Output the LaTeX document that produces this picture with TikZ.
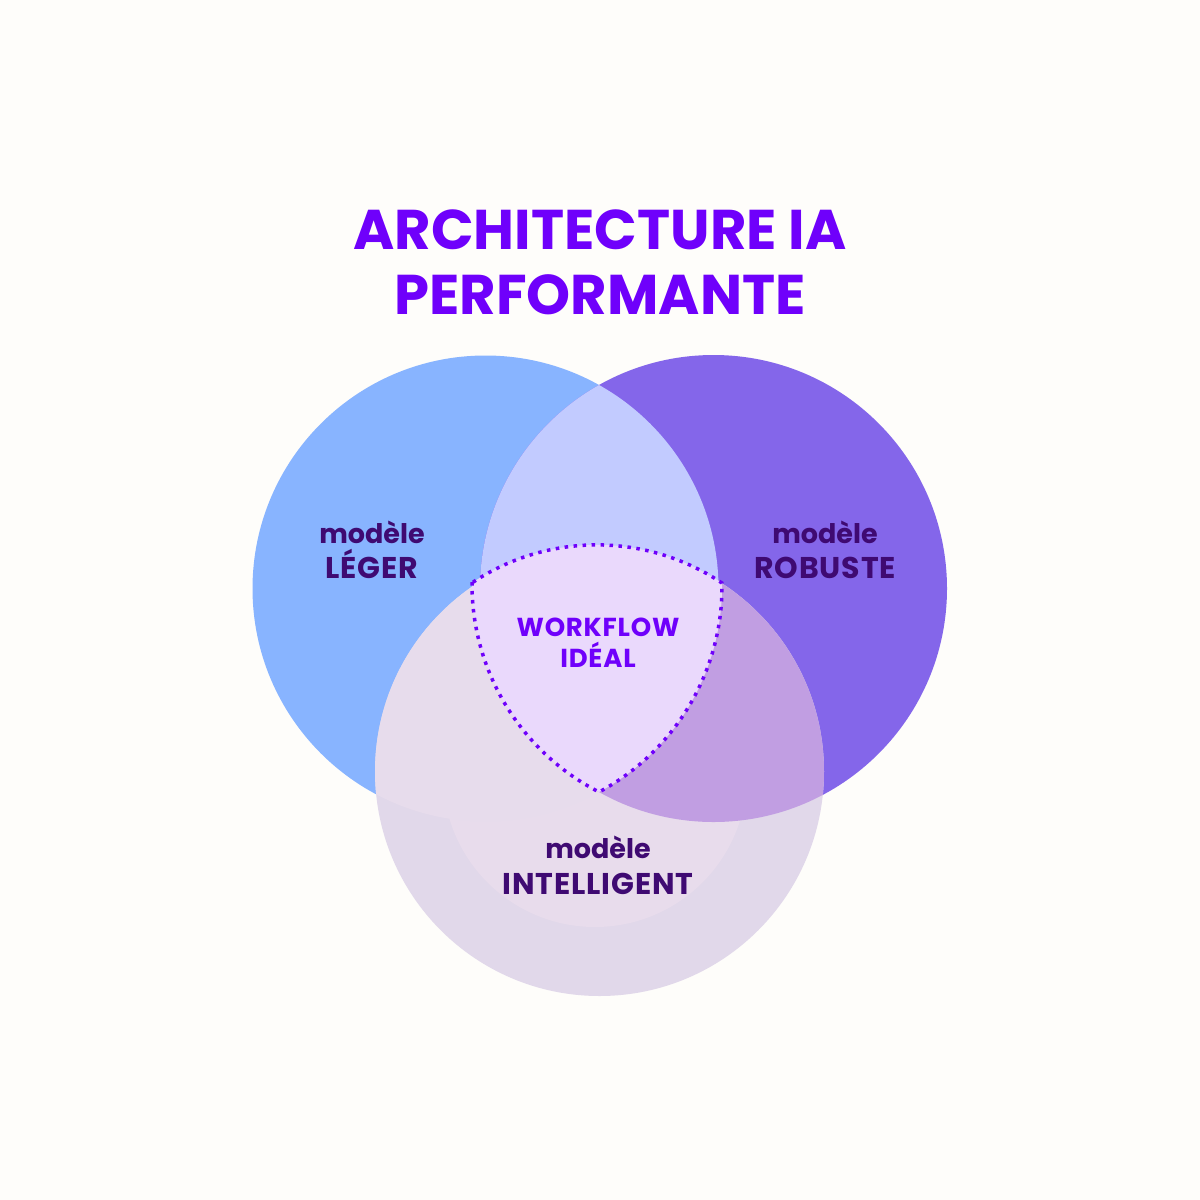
\documentclass[tikz,border=0pt]{standalone}
\usepackage{fontspec}
\setmainfont{Poppins}
\definecolor{bg}{HTML}{FEFDFA}
\definecolor{cleft}{HTML}{88B4FF}
\definecolor{cright}{HTML}{8466EA}
\definecolor{clr}{HTML}{C2CBFF}
\definecolor{cbot}{HTML}{E1D8EA}
\definecolor{cinner}{HTML}{E8DCEC}
\definecolor{cbl}{HTML}{E7DCEC}
\definecolor{cbr}{HTML}{C19EE2}
\definecolor{ctri}{HTML}{EAD9FC}
\definecolor{titlec}{HTML}{6F00FB}
\definecolor{labc}{HTML}{3F0A72}
\tikzset{
  title/.style={anchor=base, inner sep=0pt, text=titlec, font=\fontsize{56}{60}\selectfont\bfseries},
  lab/.style={anchor=base, inner sep=0pt, text=labc, font=\fontsize{27}{32}\selectfont\bfseries},
  labcaps/.style={anchor=base, inner sep=0pt, text=labc, font=\fontsize{30}{34}\selectfont\bfseries\addfontfeature{LetterSpace=3}},
  wlab/.style={anchor=base, inner sep=0pt, text=titlec, font=\fontsize{26}{30}\selectfont\bfseries\addfontfeature{LetterSpace=3}},
  dotline/.style={draw=titlec, line width=3.5pt, dash pattern=on 3.5pt off 5.5pt}
}
\begin{document}
\begin{tikzpicture}[x=1pt,y=-1pt]
\useasboundingbox (0,0) rectangle (1200,1200);
\fill[bg] (0,0) rectangle (1200,1200);
\coordinate (L) at (485.5,588.5);
\coordinate (R) at (713.5,588.5);
\coordinate (B) at (599.5,771.5);
\def\rL{233}
\def\rR{233.5}
\def\rB{224.5}
% base circles
\fill[cleft] (L) circle[radius=\rL];
\fill[cright] (R) circle[radius=\rR];
\begin{scope}
  \clip (L) circle[radius=\rL];
  \fill[clr] (R) circle[radius=\rR];
\end{scope}
\fill[cbot] (B) circle[radius=\rB];
\begin{scope}
  \clip (B) circle[radius=\rB];
  \fill[cinner] (595,775) circle[radius=152];
\end{scope}
\begin{scope}
  \clip (B) circle[radius=\rB];
  \fill[cbl] (L) circle[radius=\rL];
\end{scope}
\begin{scope}
  \clip (B) circle[radius=\rB];
  \fill[cbr] (R) circle[radius=\rR];
\end{scope}
% ideal workflow region, filled and outlined with dots
\coordinate (P1) at (472,582);
\path[fill=ctri, dotline] (P1)
  arc[start angle=180.54, end angle=117.13, radius=233.5]
  arc[start angle=61.83, end angle=-0.885, radius=233]
  arc[start angle=-56.1, end angle=-123.7, radius=224.3] -- cycle;
% texts
\node[title] (t1) at (600,249) {ARCHITECTURE IA};
\node[title] (t2) at (600,314) {PERFORMANTE};
\node[lab] (l1) at (372,543) {modèle};
\node[labcaps] (l2) at (372,578) {LÉGER};
\node[lab] (r1) at (825,543) {modèle};
\node[labcaps] (r2) at (825,578) {ROBUSTE};
\node[wlab] (w1) at (598,636) {WORKFLOW};
\node[wlab] (w2) at (598,667) {IDÉAL};
\node[lab] (b1) at (598,858) {modèle};
\node[labcaps] (b2) at (598,894) {INTELLIGENT};
\end{tikzpicture}
\end{document}
